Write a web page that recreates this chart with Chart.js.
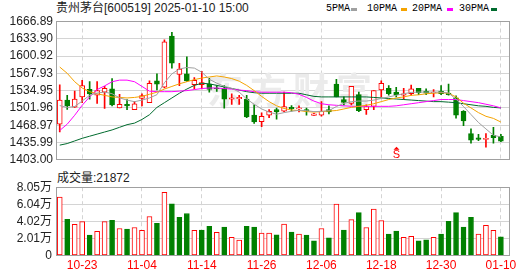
<!DOCTYPE html>
<html>
<head>
<meta charset="utf-8">
<script src="https://cdn.jsdelivr.net/npm/chart.js@4.4.1/dist/chart.umd.min.js"></script>
<style>
    body { margin: 0; background: #fff; width: 530px; height: 276px; overflow: hidden; position: relative;
           font-family: "Liberation Sans", "Noto Sans CJK SC", sans-serif; }
    canvas { position: absolute; left: 0; }
    #price-chart { top: 0; }
    #volume-chart { top: 176px; }
    .txt { position: absolute; font-size: 12px; line-height: 14px; color: #222; white-space: nowrap; }
    .lg { position: absolute; font-family: "Liberation Mono", monospace; font-size: 10px; line-height: 12px; color: #000; top: 3px; }
    .sw { position: absolute; top: 8px; width: 6px; height: 3px; }
</style>
</head>
<body>
<div class="txt" style="left:56px; top:1px;">贵州茅台[600519] 2025-01-10 15:00</div>
<div class="lg" style="left:326px;">5PMA</div><div class="sw" style="left:351px; background:#a0a0a0;"></div>
<div class="lg" style="left:367px;">10PMA</div><div class="sw" style="left:401px; background:#f5a300;"></div>
<div class="lg" style="left:412px;">20PMA</div><div class="sw" style="left:447px; background:#ff00ff;"></div>
<div class="lg" style="left:459px;">30PMA</div><div class="sw" style="left:491px; background:#006b2e;"></div>
<div class="txt" style="left:57px; top:171px;">成交量:21872</div>

<canvas id="price-chart" width="530" height="170"></canvas>
<canvas id="volume-chart" width="530" height="100"></canvas>

<script>
const dates = [
    '10-18', '10-21', '10-22', '10-23', '10-24', '10-25', '10-28', '10-29', '10-30', '10-31',
    '11-01', '11-04', '11-05', '11-06', '11-07', '11-08', '11-11', '11-12', '11-13', '11-14',
    '11-15', '11-18', '11-19', '11-20', '11-21', '11-22', '11-25', '11-26', '11-27', '11-28',
    '11-29', '12-02', '12-03', '12-04', '12-05', '12-06', '12-09', '12-10', '12-11', '12-12',
    '12-13', '12-16', '12-17', '12-18', '12-19', '12-20', '12-23', '12-24', '12-25', '12-26',
    '12-27', '12-30', '12-31', '01-02', '01-03', '01-06', '01-07', '01-08', '01-09', '01-10'
];
const labelIdx = [3, 11, 19, 27, 35, 43, 51, 59];

const open = [1471, 1517, 1503.4, 1523, 1537.7, 1526.2, 1532.2, 1538.3, 1502, 1508.9,
    1498.7, 1519.9, 1512, 1553.6, 1541.4, 1639, 1565.7, 1567, 1546.3, 1546.3,
    1547.4, 1540, 1539.5, 1518.8, 1519.5, 1518.8, 1488.2, 1475.9, 1488.2, 1498.7,
    1495.6, 1502.9, 1500, 1498.7, 1487.7, 1488.2, 1498.7, 1547.4, 1518.1, 1510.8,
    1527.3, 1498.7, 1504.7, 1536.4, 1539.5, 1532.2, 1526.2, 1529.1, 1539.5, 1533.5,
    1530.4, 1533.5, 1530.4, 1521.2, 1495.6, 1452.9, 1444.8, 1442, 1449.7, 1447.9];
const high = [1546, 1526, 1534, 1554.8, 1552.4, 1552.4, 1543.2, 1557.9, 1528, 1518.1,
    1513.9, 1529.1, 1553.6, 1567, 1631.7, 1646.4, 1587.2, 1599.5, 1559.7, 1572,
    1558.4, 1544.5, 1544.5, 1529.1, 1526.2, 1526.2, 1507.8, 1492.4, 1498.7, 1501.6,
    1532.2, 1506.5, 1506, 1501.6, 1491.5, 1513.9, 1506, 1556.6, 1523, 1543.2,
    1532.2, 1507.8, 1535.3, 1553.6, 1544.5, 1541.4, 1539.5, 1545.6, 1539.5, 1538.3,
    1537.2, 1544.5, 1547.4, 1524.9, 1496.8, 1462, 1451.6, 1452.9, 1464.9, 1451.6];
const low = [1456, 1499, 1503, 1512, 1518.8, 1510.8, 1501, 1506, 1502, 1498.7,
    1498.7, 1506, 1512, 1536.4, 1540, 1578, 1544.5, 1552.4, 1538.3, 1538.3,
    1532.2, 1533.5, 1501.6, 1508.9, 1508.9, 1483.3, 1472.3, 1466.2, 1483.3, 1480.3,
    1495, 1495.6, 1494.3, 1488.2, 1487.7, 1486.4, 1490.6, 1523, 1507.8, 1507.8,
    1495, 1489.5, 1498.7, 1523, 1526.2, 1523, 1518.8, 1526.2, 1527.3, 1527.3,
    1523, 1527.3, 1526.2, 1482.2, 1468.1, 1434.5, 1439.3, 1427.2, 1434.5, 1437.5];
const close = [1517, 1506, 1518.8, 1544.5, 1528.5, 1535.3, 1539.5, 1507.5, 1509, 1506,
    1509.7, 1525.4, 1548.7, 1547.5, 1628.1, 1587.2, 1576.2, 1553.6, 1554.8, 1550.5,
    1537.5, 1538.5, 1518.8, 1521.2, 1522, 1484.6, 1475.4, 1485.8, 1495.6, 1494.5,
    1504.7, 1500.5, 1502, 1495.6, 1490.6, 1495.6, 1494.5, 1523, 1512.6, 1543.2,
    1496.8, 1504.7, 1535.3, 1548.7, 1529.1, 1527.3, 1529.1, 1538.3, 1530.9, 1530,
    1532.2, 1529.1, 1527.3, 1488.2, 1477.2, 1440.6, 1441.9, 1444, 1445, 1438.7];

const ma5 = [1506.5, 1502.9, 1504.7, 1515.1, 1526.1, 1530.4, 1532.2, 1529.1, 1521.2, 1516.9,
    1513.9, 1516.9, 1521, 1527.3, 1550, 1567, 1576.2, 1579.2, 1578, 1570.1,
    1556.6, 1549.3, 1543.2, 1539.5, 1532.2, 1519, 1509, 1500, 1494, 1490,
    1493, 1495.5, 1497.4, 1496.8, 1494.9, 1495.5, 1496.8, 1504.7, 1510.8, 1513.9,
    1515.1, 1515.1, 1516.9, 1520, 1523, 1526.1, 1529.1, 1531.6, 1532.2, 1532.2,
    1532.2, 1532.2, 1530.4, 1518.7, 1504.7, 1489.4, 1474.2, 1461.9, 1449.7, 1446.7];
const ma10 = [1580, 1568, 1552, 1540, 1533, 1529, 1526, 1523, 1522, 1521,
    1522, 1524, 1528, 1532, 1538, 1543, 1548, 1552, 1556, 1559,
    1561, 1563, 1561, 1558, 1553, 1545, 1535, 1524, 1514, 1506,
    1501, 1498, 1497, 1495, 1494, 1495, 1496, 1497, 1500, 1503,
    1505, 1507, 1510, 1514, 1518, 1521, 1523, 1526, 1527, 1529,
    1530, 1531, 1530, 1523, 1511, 1502, 1493, 1486, 1482, 1475];
const ma20 = [1459, 1471, 1488, 1507, 1523, 1537, 1544, 1552, 1555, 1555,
    1552, 1543, 1534, 1533, 1533, 1533, 1534, 1535, 1537, 1539,
    1540, 1540, 1539, 1538, 1536, 1535, 1533, 1532, 1532, 1532,
    1532, 1531, 1528, 1522, 1515, 1510, 1508, 1507, 1506, 1505,
    1505, 1505, 1505, 1505, 1505, 1506, 1508, 1510, 1512, 1514,
    1516, 1518, 1518, 1518, 1516, 1514, 1512, 1509, 1506, 1502];
const ma30 = [1431, 1434, 1439, 1444, 1448, 1452, 1456, 1460, 1465, 1470,
    1473, 1480, 1489, 1503, 1512, 1521, 1530, 1538, 1545, 1549,
    1548, 1545, 1542, 1539, 1536, 1533, 1531, 1530, 1530, 1530,
    1530, 1530, 1530, 1527, 1524, 1523, 1523, 1523, 1523, 1523,
    1523, 1523, 1522, 1521, 1520, 1519, 1518, 1517, 1516, 1515,
    1514, 1514, 1513, 1512, 1510, 1508, 1506, 1505, 1503, 1502];

const volume = [69000, 42550, 36800, 39900, 24150, 28400, 39900, 41400, 31850, 31050,
    33000, 29550, 46000, 37950, 74400, 60950, 44850, 49450, 29550, 29900,
    34500, 27250, 33350, 21500, 18050, 34500, 33350, 26450, 26450, 24500,
    37000, 27600, 25300, 24150, 17250, 31850, 20700, 60600, 29900, 42200,
    50600, 33000, 54850, 41050, 25300, 28750, 21500, 22650, 17250, 18400,
    21500, 25300, 40250, 50600, 33350, 44850, 25300, 35650, 29550, 21872];

const priceTicks = [1403.00, 1435.99, 1468.97, 1501.96, 1534.95, 1567.93, 1600.92, 1633.90, 1666.89];
const volumeTicks = [0, 20125, 40250, 60375, 80500];
const volumeTickLabels = ['0', '2.01万', '4.02万', '6.04万', '8.05万'];
const sellSignals = [45];

const RED = '#ff0000';
const GREEN = '#008000';
const GRID = '#d4d4d4';

Chart.defaults.font.family = '"Liberation Sans", "Noto Sans CJK SC", sans-serif';
Chart.defaults.font.size = 12;

const isUp = close.map((c, i) => c >= open[i]);
const volUp = close.map((c, i) => i === 0 || c >= close[i - 1]);

const framePlugin = {
    id: 'frame',
    afterDraw(chart) {
        const { ctx, chartArea: a } = chart;
        const l = Math.floor(a.left), t = Math.floor(a.top), r = Math.floor(a.right), b = Math.floor(a.bottom);
        ctx.save();
        ctx.strokeStyle = '#a0a0a0';
        ctx.lineWidth = 1;
        ctx.strokeRect(l + 0.5, t + 0.5, r - l, b - t);
        ctx.restore();
    }
};

const watermarkPlugin = {
    id: 'watermark',
    beforeDatasetsDraw(chart) {
        const ctx = chart.ctx;
        ctx.save();
        ctx.fillStyle = '#ebebeb';
        ctx.font = 'bold 36px "Noto Sans CJK SC"';
        ctx.textAlign = 'center';
        ctx.textBaseline = 'middle';
        ['东', '方', '财', '富'].forEach((ch, k) => ctx.fillText(ch, 225 + k * 43, 90));
        ctx.restore();
    }
};

const signalPlugin = {
    id: 'signals',
    afterDatasetsDraw(chart) {
        const { ctx, chartArea: a } = chart;
        const xs = chart.scales.x;
        ctx.save();
        ctx.fillStyle = RED;
        sellSignals.forEach(idx => {
            const x = Math.round(xs.getPixelForValue(idx)) + 0.5;
            ctx.beginPath();
            ctx.moveTo(x, a.bottom - 13);
            ctx.lineTo(x - 3, a.bottom - 10);
            ctx.lineTo(x + 3, a.bottom - 10);
            ctx.closePath();
            ctx.fill();
            ctx.font = '11px "Liberation Sans"';
            ctx.textAlign = 'center';
            ctx.textBaseline = 'middle';
            ctx.fillText('S', x, a.bottom - 5);
        });
        ctx.restore();
    }
};

function xAxis(showLabels) {
    return {
        type: 'linear',
        min: -0.5,
        max: 60.15,
        offset: false,
        afterBuildTicks: axis => { axis.ticks = labelIdx.map(v => ({ value: v })); },
        ticks: {
            display: showLabels,
            color: RED,
            padding: 3,
            maxRotation: 0,
            autoSkip: false,
            callback: v => dates[v]
        },
        grid: { color: GRID, drawTicks: false, offset: false },
        border: { display: false, dash: [4, 3] },
        afterFit: axis => { axis.height = showLabels ? 20.5 : 0; }
    };
}

const candleBodies = dates.map((d, i) => ({ x: i, y: [open[i], close[i]] }));
const candleWicks = dates.map((d, i) => ({ x: i, y: [low[i], high[i]] }));
const maLine = (values, color) => ({
    type: 'line',
    data: values.map((v, i) => ({ x: i, y: v })),
    borderColor: color,
    borderWidth: 1,
    pointRadius: 0,
    tension: 0,
    order: 0
});

new Chart(document.getElementById('price-chart'), {
    type: 'bar',
    data: {
        datasets: [
            maLine(ma5, '#a0a0a0'),
            maLine(ma10, '#f5a300'),
            maLine(ma20, '#ff00ff'),
            maLine(ma30, '#006b2e'),
            {
                data: candleBodies,
                grouped: false,
                barThickness: 5,
                backgroundColor: isUp.map(u => u ? '#ffffff' : GREEN),
                borderColor: isUp.map(u => u ? RED : GREEN),
                borderWidth: 1,
                borderSkipped: false,
                order: 1
            },
            {
                data: candleWicks,
                grouped: false,
                barThickness: 1,
                backgroundColor: isUp.map(u => u ? RED : GREEN),
                borderWidth: 0,
                order: 2
            }
        ]
    },
    options: {
        responsive: false,
        animation: false,
        events: [],
        layout: { padding: { top: 21.5, right: 20.5, bottom: 4.5, left: 0 } },
        plugins: { legend: { display: false }, tooltip: { enabled: false } },
        scales: {
            x: xAxis(false),
            y: {
                min: 1403,
                max: 1666.89,
                afterBuildTicks: axis => { axis.ticks = priceTicks.map(v => ({ value: v })); },
                ticks: { color: '#222', padding: 3, autoSkip: false, callback: v => v.toFixed(2) },
                grid: { color: GRID, drawTicks: false },
                border: { display: false },
                afterFit: axis => { axis.width = 56; }
            }
        }
    },
    plugins: [watermarkPlugin, framePlugin, signalPlugin]
});

new Chart(document.getElementById('volume-chart'), {
    type: 'bar',
    data: {
        datasets: [{
            data: volume.map((v, i) => ({ x: i, y: v })),
            barThickness: 5,
            backgroundColor: volUp.map(u => u ? '#ffffff' : GREEN),
            borderColor: volUp.map(u => u ? RED : GREEN),
            borderWidth: 1,
            borderSkipped: false
        }]
    },
    options: {
        responsive: false,
        animation: false,
        events: [],
        layout: { padding: { top: 10, right: 20.5, bottom: 0, left: 0 } },
        plugins: { legend: { display: false }, tooltip: { enabled: false } },
        scales: {
            x: xAxis(true),
            y: {
                min: 0,
                max: 80500,
                afterBuildTicks: axis => { axis.ticks = volumeTicks.map(v => ({ value: v })); },
                ticks: { color: '#222', padding: 4, autoSkip: false, callback: (v, i) => volumeTickLabels[i] },
                grid: { color: GRID, drawTicks: false },
                border: { display: false },
                afterFit: axis => { axis.width = 56; }
            }
        }
    },
    plugins: [framePlugin]
});
</script>
</body>
</html>
